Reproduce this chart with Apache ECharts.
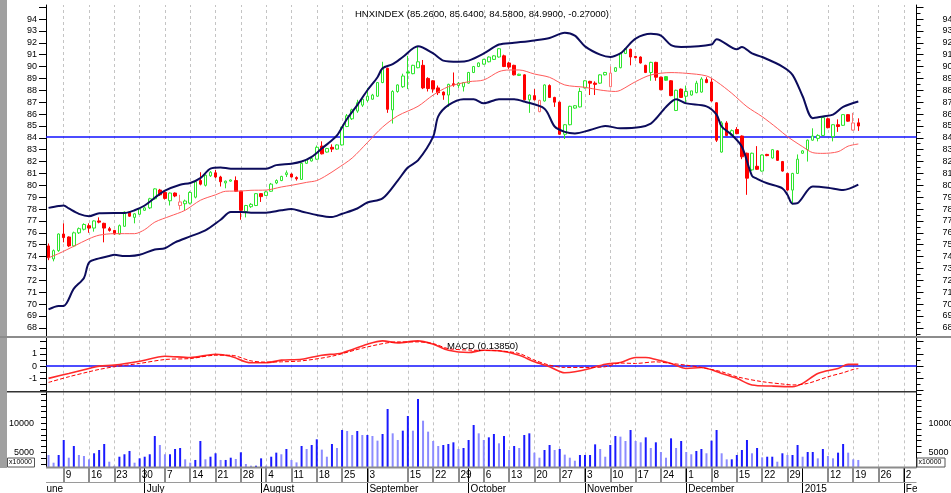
<!DOCTYPE html>
<html>
<head>
<meta charset="utf-8">
<script src="https://cdn.jsdelivr.net/npm/echarts@6.0.0/dist/echarts.min.js"></script>
<style>
html, body { margin: 0; padding: 0; background: #fff; }
#chart { width: 951px; height: 493px; }
</style>
</head>
<body>
<div id="chart"></div>
<script>
// trading calendar (HNX), weekends and these holidays are skipped
const firstDay = '2014-06-04';
const lastDay = '2015-02-04';
const holidays = ['2014-09-01', '2014-09-02', '2015-01-01', '2015-01-02'];

// day labels on the date row
const weekTicks = ['2014-06-09', '2014-06-16', '2014-06-23', '2014-06-30', '2014-07-07', '2014-07-14',
  '2014-07-21', '2014-07-28', '2014-08-04', '2014-08-11', '2014-08-18', '2014-08-25', '2014-09-03',
  '2014-09-15', '2014-09-22', '2014-09-29', '2014-10-06', '2014-10-13', '2014-10-20', '2014-10-27',
  '2014-11-03', '2014-11-10', '2014-11-17', '2014-11-24', '2014-12-01', '2014-12-08', '2014-12-15',
  '2014-12-22', '2014-12-29', '2015-01-12', '2015-01-19', '2015-01-26', '2015-02-02'];
// month row
const monthStarts = ['2014-07-01', '2014-08-01', '2014-09-03', '2014-10-01', '2014-11-03', '2014-12-01', '2015-01-05', '2015-02-02'];
const monthNames = ['July', 'August', 'September', 'October', 'November', 'December', '2015', 'February'];

// HNXINDEX daily prices, 2014-06-04 .. 2015-01-20
const opens = [74.9, 73.8, 74.5, 75.9, 75.65, 74.9, 76.0, 76.3, 76.6, 76.4,
  77.0, 76.8, 76.35, 76.2, 75.9, 76.55, 77.75, 77.3, 77.56, 77.9,
  78.1, 78.87, 79.6, 79.4, 78.7, 79.35, 78.3, 78.45, 78.5, 79.0,
  80.4, 80.0, 80.8, 81.05, 80.7, 80.2, 80.35, 80.4, 79.5, 77.8,
  78.2, 78.3, 79.3, 79.15, 79.5, 80.2, 80.4, 80.9, 80.95, 80.65,
  80.5, 81.85, 82.05, 82.2, 83.3, 82.8, 83.2, 83.05, 83.4, 84.95,
  85.6, 86.25, 86.75, 87.15, 87.25, 87.5, 88.65, 89.85, 86.35, 87.9,
  88.3, 89.55, 89.4, 89.9, 90.1, 89.0, 88.8, 88.2, 87.85, 87.6,
  88.55, 88.4, 88.3, 88.6, 89.5, 90.0, 90.2, 90.4, 90.6, 90.8,
  90.9, 90.3, 90.1, 89.25, 89.3, 87.2, 87.55, 86.2, 87.1, 88.4,
  87.4, 87.0, 84.3, 85.1, 86.5, 86.6, 88.2, 88.75, 88.6, 88.6,
  89.3, 88.3, 89.6, 89.9, 91.1, 91.45, 90.85, 90.8, 90.1, 89.5,
  90.35, 89.1, 89.15, 88.8, 86.3, 88.1, 87.5, 87.6, 87.8, 87.85,
  88.9, 88.7, 86.95, 82.8, 85.25, 84.2, 84.7, 84.15, 82.7, 81.3,
  81.6, 81.2, 82.6, 82.3, 82.9, 82.0, 81.0, 79.6, 81.0, 82.7,
  83.0, 83.8, 83.95, 84.2, 85.6, 84.1, 85.1, 85.05, 85.95, 84.65,
  85.26];
const closes = [73.9, 74.5, 75.9, 75.6, 74.9, 76.0, 76.35, 76.7, 76.4, 77.0,
  76.9, 76.4, 76.2, 75.9, 76.6, 77.75, 77.4, 77.6, 78.0, 78.1,
  78.87, 79.7, 79.2, 78.9, 79.35, 79.1, 78.6, 78.68, 79.4, 80.3,
  80.1, 80.85, 81.1, 80.7, 80.3, 80.35, 80.45, 79.5, 77.9, 78.3,
  78.4, 79.3, 79.05, 79.45, 80.1, 80.4, 80.75, 81.05, 80.7, 80.55,
  81.85, 82.15, 82.25, 83.2, 82.65, 83.1, 83.05, 83.4, 84.9, 85.85,
  86.35, 86.95, 87.25, 87.5, 87.6, 88.65, 89.85, 86.4, 87.9, 88.45,
  89.2, 89.45, 90.1, 90.4, 88.2, 88.15, 88.1, 87.8, 87.6, 88.5,
  88.45, 88.6, 88.65, 89.5, 90.0, 90.3, 90.6, 90.8, 90.9, 91.5,
  90.0, 89.95, 89.3, 89.35, 87.2, 87.6, 87.2, 87.15, 88.45, 87.4,
  87.0, 84.3, 85.1, 86.65, 86.7, 87.9, 88.8, 88.6, 88.5, 89.3,
  89.5, 89.45, 89.9, 91.1, 91.5, 90.8, 90.75, 90.3, 89.5, 90.35,
  89.1, 88.05, 88.85, 87.55, 88.0, 87.4, 87.9, 87.95, 88.6, 88.95,
  88.65, 87.1, 83.8, 85.25, 84.2, 84.6, 84.35, 82.4, 80.6, 82.7,
  81.35, 82.55, 82.5, 83.0, 82.1, 81.2, 79.6, 81.0, 82.2, 82.9,
  83.8, 84.15, 84.2, 85.7, 84.85, 85.1, 84.95, 85.95, 85.4, 85.25,
  84.99];
const lows = [73.7, 73.6, 74.4, 75.2, 74.8, 74.8, 75.9, 76.2, 76.0, 76.1,
  76.8, 75.2, 76.1, 75.85, 75.85, 76.5, 77.35, 76.8, 77.5, 77.85,
  78.0, 78.8, 79.1, 78.8, 78.3, 79.0, 77.95, 77.9, 78.4, 78.9,
  80.0, 79.9, 80.7, 80.6, 79.9, 79.75, 80.3, 79.45, 77.1, 77.3,
  78.1, 78.25, 78.6, 79.1, 79.45, 80.1, 80.35, 80.7, 80.65, 80.4,
  80.45, 81.8, 82.0, 82.15, 82.6, 82.75, 82.8, 83.0, 83.35, 84.9,
  85.5, 86.1, 86.6, 87.0, 87.2, 87.45, 88.6, 86.1, 85.2, 87.8,
  88.2, 88.1, 89.35, 89.85, 88.1, 87.9, 87.8, 87.6, 87.2, 86.6,
  88.3, 88.2, 87.9, 88.55, 89.45, 89.95, 90.15, 90.35, 90.55, 90.75,
  89.95, 89.8, 89.25, 89.2, 87.15, 86.1, 87.15, 86.15, 87.05, 87.35,
  86.6, 84.25, 83.9, 85.05, 86.45, 86.55, 88.15, 87.6, 87.6, 88.55,
  89.25, 88.25, 89.55, 89.85, 91.05, 90.1, 90.7, 90.25, 89.45, 88.8,
  88.8, 88.0, 88.8, 87.5, 86.25, 87.35, 87.0, 87.55, 87.75, 87.8,
  88.6, 87.05, 83.65, 82.75, 84.15, 84.15, 84.3, 82.2, 79.2, 81.2,
  81.3, 81.15, 82.45, 82.25, 82.05, 81.15, 79.55, 78.4, 80.95, 82.65,
  82.0, 83.75, 83.7, 84.15, 84.8, 83.7, 84.5, 85.0, 85.35, 84.6,
  84.58];
const highs = [75.1, 74.6, 75.95, 76.8, 75.7, 76.1, 76.45, 76.8, 76.8, 77.05,
  77.3, 76.85, 76.5, 76.25, 76.7, 77.8, 77.8, 77.65, 78.1, 78.2,
  78.95, 79.75, 79.7, 79.6, 79.4, 79.4, 79.2, 78.8, 79.5, 80.4,
  81.1, 80.9, 81.2, 81.3, 80.8, 80.4, 80.5, 80.75, 79.55, 78.35,
  78.5, 79.35, 79.35, 79.55, 80.2, 80.5, 80.8, 81.25, 81.0, 80.75,
  81.9, 82.2, 82.3, 83.35, 83.7, 83.15, 83.45, 83.45, 84.95, 86.0,
  86.45, 87.2, 87.3, 88.2, 87.7, 88.7, 90.4, 89.9, 88.0, 88.5,
  89.4, 90.9, 90.15, 91.7, 90.55, 89.1, 88.85, 88.4, 87.9, 88.55,
  89.5, 88.7, 88.7, 89.55, 90.05, 90.35, 90.65, 90.85, 90.95, 91.55,
  91.0, 90.4, 90.15, 89.4, 89.35, 87.65, 88.1, 87.2, 88.5, 88.5,
  87.45, 87.05, 85.15, 86.7, 86.75, 88.2, 88.85, 88.8, 88.75, 89.35,
  89.55, 90.0, 89.95, 91.2, 91.55, 91.5, 90.9, 90.85, 90.15, 90.4,
  90.4, 89.15, 89.2, 88.85, 88.05, 88.15, 88.4, 87.95, 88.8, 89.1,
  89.1, 89.0, 87.0, 85.4, 85.4, 84.7, 84.9, 84.2, 82.75, 82.75,
  83.3, 82.6, 82.65, 83.05, 82.95, 82.05, 81.05, 81.05, 82.6, 82.95,
  83.85, 84.8, 84.3, 85.75, 85.7, 85.15, 85.55, 86.0, 86.0, 86.1,
  85.64];

// volume, x10000
const volumes = [4540, 3210, 4540, 7120, 4070, 6090, 4540, 4360, 3790, 4830,
  5400, 6430, 3380, 2690, 4240, 4660, 5230, 3210, 3960, 4240,
  4660, 7810, 6260, 4660, 4660, 5570, 5740, 3790, 3210, 3680,
  6950, 3790, 4240, 4830, 3680, 3680, 4070, 3850, 5000, 2980,
  2690, 2690, 3960, 2700, 4240, 4940, 4660, 5570, 3680, 3260,
  6090, 5570, 6260, 7240, 5460, 4240, 6430, 5740, 8850, 8670,
  7980, 8670, 7980, 7980, 7810, 7010, 8160, 12470, 8270, 7120,
  8730, 11260, 8730, 14190, 10450, 8560, 6950, 6090, 6260, 6430,
  6720, 5570, 5740, 7120, 9710, 8270, 7120, 7580, 8160, 6550,
  7810, 5400, 6090, 5740, 7980, 8270, 4940, 4070, 5400, 6260,
  5400, 5570, 4600, 4070, 3550, 4540, 4540, 4540, 6370, 5570,
  4240, 6260, 7810, 7700, 6950, 8850, 6950, 6720, 7580, 5740,
  6720, 5050, 4070, 7410, 5740, 6950, 5050, 4660, 5230, 5570,
  4830, 7010, 8850, 4830, 3790, 3790, 4540, 5400, 7120, 4830,
  5740, 4130, 4240, 4240, 3380, 4830, 4540, 4540, 6260, 4240,
  5050, 5050, 3960, 5570, 4360, 3960, 4940, 6430, 4940, 3790,
  3680];

// indicator lines, [trading day index, value]
const bbUpper = [[0, 78.1], [2, 78.25], [3, 78.3], [4, 78.05], [6, 77.6], [8, 77.4], [10, 77.65], [13, 77.67],
  [15, 77.67], [17, 77.9], [19, 78.3], [21, 78.95], [23, 79.55], [26, 80.05], [28, 80.2], [30, 80.6],
  [32, 81.4], [34, 81.5], [36, 81.4], [39, 81.4], [43, 81.4], [45, 81.7], [48, 81.82], [50, 82.0],
  [52, 82.4], [54, 83.1], [56, 83.8], [57, 84.2], [59, 85.6], [61, 86.75], [63, 88.0], [65, 89.1],
  [66, 89.85], [68, 90.2], [70, 90.8], [73, 91.7], [76, 91.1], [78, 90.5], [81, 90.4], [83, 90.5],
  [86, 91.1], [89, 91.85], [92, 92.0], [96, 92.2], [99, 92.4], [102, 92.85], [104, 92.6], [106, 91.7],
  [109, 91.0], [111, 90.8], [113, 91.1], [114, 91.5], [116, 92.35], [119, 92.75], [121, 92.6], [123, 91.8],
  [125, 91.65], [131, 91.85], [132, 92.3], [136, 91.45], [137, 91.65], [139, 91.1], [141, 90.8], [145, 90.0],
  [147, 89.3], [149, 87.5], [151, 85.65], [153, 85.8], [155, 85.95], [157, 86.6], [160, 87.05]];
const bbMiddle = [[0, 73.9], [2, 74.25], [5, 74.87], [8, 75.5], [10, 75.8], [13, 75.93], [17, 75.93], [19, 76.27],
  [21, 76.9], [24, 77.4], [27, 77.9], [30, 78.74], [33, 79.2], [35, 79.5], [38, 79.52], [40, 79.58],
  [43, 79.6], [46, 79.86], [48, 80.0], [51, 80.25], [53, 80.4], [55, 80.85], [57, 81.4], [60, 82.3],
  [63, 83.6], [66, 84.9], [69, 85.85], [73, 86.65], [76, 87.6], [79, 88.3], [83, 88.72], [86, 88.87],
  [89, 89.57], [91, 89.71], [93, 89.71], [96, 89.37], [99, 89.09], [102, 88.45], [106, 88.25], [109, 88.02],
  [112, 87.9], [113, 88.0], [116, 88.73], [119, 89.29], [123, 89.49], [126, 89.43], [130, 89.21], [132, 88.73],
  [135, 87.75], [138, 86.62], [141, 85.78], [144, 84.8], [146, 84.1], [149, 83.25], [151, 82.75], [153, 82.69],
  [156, 82.83], [158, 83.3], [160, 83.48]];
const bbLower = [[0, 69.55], [2, 69.85], [3, 69.85], [5, 71.3], [7, 72.2], [8, 73.5], [10, 73.85], [12, 74.05],
  [13, 74.15], [15, 74.05], [16, 74.05], [18, 74.15], [21, 74.6], [23, 74.7], [25, 75.2], [28, 75.7],
  [31, 76.2], [34, 77.1], [36, 77.75], [38, 77.75], [40, 77.7], [43, 77.7], [46, 77.9], [48, 78.0],
  [50, 77.8], [53, 77.5], [56, 77.33], [58, 77.6], [61, 78.05], [63, 78.55], [66, 78.9], [69, 80.4],
  [71, 81.5], [73, 82.1], [76, 84.1], [77, 85.8], [79, 86.75], [82, 87.25], [84, 87.25], [86, 86.9],
  [89, 87.25], [92, 87.25], [94, 87.05], [98, 86.45], [100, 84.95], [102, 84.5], [104, 84.37], [107, 84.65],
  [110, 85.0], [113, 84.8], [117, 84.9], [119, 85.2], [120, 85.6], [122, 86.6], [124, 87.25], [126, 86.9],
  [130, 86.65], [132, 85.95], [133, 84.95], [135, 84.25], [137, 83.25], [139, 80.8], [140, 80.55], [142, 80.17],
  [145, 79.75], [146, 79.2], [147, 78.45], [148, 78.5], [151, 79.9], [154, 79.8], [157, 79.6], [160, 80.05]];
const macdLine = [[0, -1.0], [4, -0.6], [8, -0.19], [10, 0.0], [13, 0.08], [18, 0.4], [23, 0.81], [28, 0.7],
  [33, 0.97], [36, 0.81], [40, 0.27], [43, 0.27], [46, 0.49], [50, 0.56], [54, 0.89], [58, 1.08],
  [63, 1.79], [66, 2.06], [69, 1.9], [73, 2.06], [76, 1.79], [79, 1.3], [83, 1.11], [86, 1.3],
  [89, 1.25], [93, 0.89], [96, 0.35], [99, -0.05], [102, -0.54], [104, -0.46], [107, -0.19], [110, 0.16],
  [113, 0.3], [116, 0.7], [118, 0.7], [120, 0.54], [123, 0.22], [126, -0.19], [129, -0.11], [133, -0.6],
  [136, -1.0], [139, -1.54], [143, -1.63], [147, -1.68], [149, -1.41], [152, -0.6], [156, -0.19], [158, 0.14],
  [160, 0.14]];
const macdSignal = [[0, -1.33], [4, -0.87], [8, -0.46], [10, -0.27], [13, -0.05], [18, 0.22], [23, 0.54], [28, 0.62],
  [33, 0.89], [36, 0.89], [40, 0.43], [43, 0.33], [46, 0.35], [50, 0.43], [56, 0.81], [63, 1.57],
  [69, 1.98], [73, 1.98], [76, 1.84], [79, 1.43], [84, 1.3], [89, 1.25], [93, 1.03], [96, 0.49],
  [99, 0.08], [102, -0.11], [107, -0.11], [110, -0.05], [113, 0.25], [116, 0.22], [120, 0.35], [123, 0.22],
  [126, 0.08], [129, -0.11], [133, -0.46], [136, -0.87], [141, -1.27], [145, -1.46], [147, -1.54], [150, -1.41],
  [154, -0.87], [157, -0.54], [159, -0.27], [160, -0.2]];
const refLevel = 84.13;

// axis ticks and labels
const priceTicks = [68, 69, 70, 71, 72, 73, 74, 75, 76, 77, 78, 79, 80, 81, 82, 83, 84, 85, 86, 87, 88, 89, 90, 91, 92, 93, 94, 95];
const priceLabels = [68, 69, 70, 71, 72, 73, 74, 75, 76, 77, 78, 79, 80, 81, 82, 83, 84, 85, 86, 87, 88, 89, 90, 91, 92, 93, 94];
const priceHalfTicks = [67.5, 68.5, 69.5, 70.5, 71.5, 72.5, 73.5, 74.5, 75.5, 76.5, 77.5, 78.5, 79.5, 80.5, 81.5, 82.5,
  83.5, 84.5, 85.5, 86.5, 87.5, 88.5, 89.5, 90.5, 91.5, 92.5, 93.5, 94.5];
const macdTicks = [-2, -1.5, -1, -0.5, 0, 0.5, 1, 1.5, 2];
const macdMajor = [-2, -1, 0, 1, 2];
const macdMinor = [-1.5, -0.5, 0.5, 1.5];
const macdLabels = [-1, 0, 1];
const volTicks = [3000, 4000, 5000, 6000, 7000, 8000, 9000, 10000, 11000, 12000, 13000, 14000, 15000];
const volLabels = [5000, 10000];

const FONT = 'Liberation Sans';
const GREEN = '#2ee62e', RED = '#ff0000', PINK = '#ff7373';
const VOL_UP = '#1a1aff', VOL_DN = '#8c8cff';

function tradingDays(start, end, skip) {
  const out = [];
  const d = new Date(start + 'T00:00:00Z');
  const e = new Date(end + 'T00:00:00Z');
  while (d <= e) {
    const s = d.toISOString().slice(0, 10);
    const wd = d.getUTCDay();
    if (wd !== 0 && wd !== 6 && skip.indexOf(s) < 0) out.push(s);
    d.setUTCDate(d.getUTCDate() + 1);
  }
  return out;
}
const days = tradingDays(firstDay, lastDay, holidays);
const weekSet = new Set(weekTicks);
const monthSet = new Set(monthStarts);
const monthName = {};
monthStarts.forEach((d, i) => { monthName[d] = monthNames[i]; });

// candle colour: green if close rose from the day before, red if not; hollow when close >= open
const candleData = opens.map((o, i) => {
  const c = closes[i];
  const prev = i > 0 ? closes[i - 1] : o;
  const hollow = c >= o;
  const edge = c >= prev ? GREEN : (hollow ? PINK : RED);
  const fill = hollow ? '#ffffff' : edge;
  return {
    value: [o, c, lows[i], highs[i]],
    itemStyle: { color: fill, color0: fill, borderColor: edge, borderColor0: edge }
  };
});
const volData = volumes.map((v, i) => ({
  value: v,
  itemStyle: { color: i > 0 && v >= volumes[i - 1] ? VOL_UP : VOL_DN }
}));

const gridLines = weekTicks.map(d => ({ xAxis: d }));
function gridSeries(xi, yi, extra) {
  return {
    type: 'line', xAxisIndex: xi, yAxisIndex: yi, data: [], z: 1, silent: true,
    markLine: {
      symbol: ['none', 'none'], silent: true, animation: false, z: 1,
      label: { show: false },
      lineStyle: { color: '#c4c4c4', type: [3, 3], width: 1 },
      data: gridLines.concat(extra || [])
    }
  };
}

function yAx(grid, pos, min, max, ticks, tickLen, labels, margin, showLine) {
  return {
    type: 'value', gridIndex: grid, position: pos, min: min, max: max,
    axisLine: { show: showLine, lineStyle: { color: '#000', width: 1 } },
    axisTick: { show: true, customValues: ticks, length: tickLen, lineStyle: { color: '#000', width: 1 } },
    axisLabel: {
      show: !!labels, customValues: labels || [], margin: margin,
      formatter: v => String(v),
      fontFamily: FONT, fontSize: 9, color: '#000'
    },
    splitLine: { show: false }
  };
}

function hiddenX(grid) {
  return { type: 'category', gridIndex: grid, data: days, boundaryGap: true, show: false };
}

const chart = echarts.init(document.getElementById('chart'));
chart.setOption({
  animation: false,
  backgroundColor: '#ffffff',
  grid: [
    { left: 46, width: 870.5, top: 5, height: 332, outerBoundsMode: 'none', containLabel: false },
    { left: 46, width: 870.5, top: 337, height: 54.7, outerBoundsMode: 'none', containLabel: false },
    { left: 46, width: 870.5, top: 391.7, height: 75.6, outerBoundsMode: 'none', containLabel: false }
  ],
  xAxis: [
    hiddenX(0),
    hiddenX(1),
    {
      type: 'category', gridIndex: 2, data: days, boundaryGap: true, position: 'bottom',
      axisLine: { show: false },
      axisTick: {
        show: true, alignWithLabel: true, length: 15,
        interval: (i, v) => weekSet.has(v),
        lineStyle: { color: '#8c8c8c', width: 2 }
      },
      axisLabel: {
        interval: (i, v) => weekSet.has(v),
        formatter: v => String(Number(v.slice(8))),
        align: 'left', margin: 3, padding: [0, 0, 0, 2],
        fontFamily: FONT, fontSize: 10, color: '#000'
      },
      splitLine: { show: false }
    },
    {
      type: 'category', gridIndex: 2, data: days, boundaryGap: true, position: 'bottom', offset: 0,
      axisLine: { show: false },
      axisTick: {
        show: true, alignWithLabel: true, length: 26,
        interval: (i, v) => monthSet.has(v),
        lineStyle: { color: '#000', width: 1 }
      },
      axisLabel: { show: false },
      splitLine: { show: false }
    },
    {
      type: 'category', gridIndex: 2, data: days, boundaryGap: true, position: 'bottom', offset: 15,
      axisLine: { show: false },
      axisTick: { show: false },
      axisLabel: {
        interval: (i, v) => monthSet.has(v),
        formatter: v => monthName[v] || '',
        align: 'left', margin: 2, padding: [0, 0, 0, 2],
        fontFamily: FONT, fontSize: 10, color: '#000'
      },
      splitLine: { show: false }
    }
  ],
  yAxis: [
    yAx(0, 'left', 67.23, 95.18, priceTicks, 7, priceLabels, 9, true),
    yAx(0, 'right', 67.23, 95.18, priceTicks, 7, priceLabels, 26, true),
    yAx(0, 'right', 67.23, 95.18, priceHalfTicks, 4, null, 8, false),
    yAx(1, 'left', -2.09, 2.38, macdTicks, 6, macdLabels, 9, true),
    yAx(1, 'right', -2.09, 2.38, macdMajor, 7, null, 8, true),
    yAx(1, 'right', -2.09, 2.38, macdMinor, 4, null, 8, false),
    yAx(2, 'left', 2414, 15448, volTicks, 5, volLabels, 12, true),
    yAx(2, 'right', 2414, 15448, volTicks, 5, volLabels, 12, true)
  ],
  series: [
    gridSeries(0, 0, [{ yAxis: refLevel, lineStyle: { color: '#1010ff', type: 'solid', width: 1.5 } }]),
    gridSeries(1, 3, [{ yAxis: 0, lineStyle: { color: '#1010ff', type: 'solid', width: 1.5 } }]),
    gridSeries(2, 6),
    {
      name: 'HNXINDEX', type: 'candlestick', xAxisIndex: 0, yAxisIndex: 0,
      data: candleData, barWidth: 3, z: 3
    },
    {
      name: 'BB mid', type: 'line', xAxisIndex: 0, yAxisIndex: 0, data: bbMiddle,
      showSymbol: false, smooth: 0.3, z: 4,
      lineStyle: { color: '#ff5a5a', width: 1 }
    },
    {
      name: 'BB upper', type: 'line', xAxisIndex: 0, yAxisIndex: 0, data: bbUpper,
      showSymbol: false, smooth: 0.3, z: 4,
      lineStyle: { color: '#0c0c5c', width: 2 }
    },
    {
      name: 'BB lower', type: 'line', xAxisIndex: 0, yAxisIndex: 0, data: bbLower,
      showSymbol: false, smooth: 0.3, z: 4,
      lineStyle: { color: '#0c0c5c', width: 2 }
    },
    {
      name: 'MACD', type: 'line', xAxisIndex: 1, yAxisIndex: 3, data: macdLine,
      showSymbol: false, smooth: 0.3, z: 4,
      lineStyle: { color: '#ff2a2a', width: 1.6 }
    },
    {
      name: 'Signal', type: 'line', xAxisIndex: 1, yAxisIndex: 3, data: macdSignal,
      showSymbol: false, smooth: 0.3, z: 4,
      lineStyle: { color: '#ff0000', width: 1, type: [4, 2] }
    },
    {
      name: 'Volume', type: 'bar', xAxisIndex: 2, yAxisIndex: 6, data: volData,
      barWidth: 2, z: 3
    }
  ],
  graphic: [
    // window strip at the left edge
    { type: 'rect', z: 50, shape: { x: 0, y: 0, width: 7, height: 468 }, style: { fill: '#a0a0a0' } },
    // panel separators
    { type: 'line', z: 50, shape: { x1: 0, y1: 337, x2: 951, y2: 337 }, style: { stroke: '#8c8c8c', lineWidth: 2 } },
    { type: 'line', z: 50, shape: { x1: 7, y1: 391.7, x2: 916.5, y2: 391.7 }, style: { stroke: '#333', lineWidth: 1.5 } },
    { type: 'line', z: 50, shape: { x1: 46, y1: 467.5, x2: 916.5, y2: 467.5 }, style: { stroke: '#8c8c8c', lineWidth: 2 } },
    { type: 'line', z: 50, shape: { x1: 46, y1: 482.5, x2: 916.5, y2: 482.5 }, style: { stroke: '#9a9a9a', lineWidth: 1 } },
    // month names cut at the plot edges
    { type: 'text', z: 40, left: 41.5, top: 484, style: { text: 'June', font: '10px "Liberation Sans"', fill: '#000' } },
    { type: 'rect', z: 60, shape: { x: 7, y: 483, width: 39, height: 10 }, style: { fill: '#fff' } },
    { type: 'rect', z: 60, shape: { x: 917, y: 468, width: 34, height: 25 }, style: { fill: '#fff' } },
    // volume unit boxes
    { type: 'rect', z: 61, shape: { x: 7.5, y: 458, width: 27, height: 9 }, style: { fill: '#fff', stroke: '#555', lineWidth: 1 } },
    { type: 'text', z: 62, left: 9, top: 458.5, style: { text: 'x10000', font: '7px "Liberation Sans"', fill: '#000' } },
    { type: 'rect', z: 61, shape: { x: 917, y: 458, width: 28, height: 9 }, style: { fill: '#fff', stroke: '#555', lineWidth: 1 } },
    { type: 'text', z: 62, left: 918.5, top: 458.5, style: { text: 'x10000', font: '7px "Liberation Sans"', fill: '#000' } },
    // titles
    { type: 'text', z: 62, left: 355, top: 9.5, style: { text: 'HNXINDEX (85.2600, 85.6400, 84.5800, 84.9900, -0.27000)', font: '9.5px "Liberation Sans"', fill: '#000' } },
    { type: 'text', z: 62, left: 447, top: 341, style: { text: 'MACD (0.13850)', font: '9.5px "Liberation Sans"', fill: '#000' } }
  ]
});
</script>
</body>
</html>
